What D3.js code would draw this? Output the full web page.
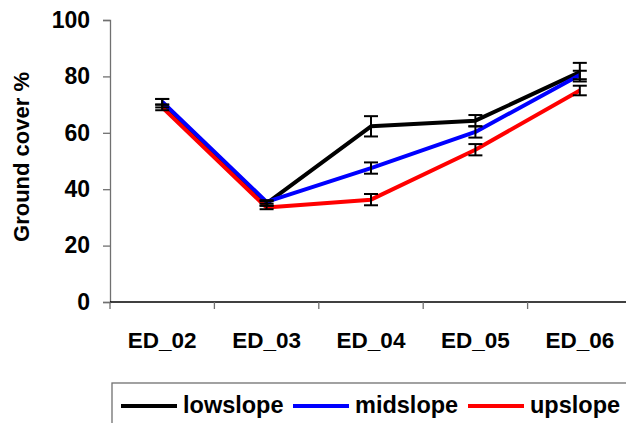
<!DOCTYPE html>
<html>
<head>
<meta charset="utf-8">
<script src="https://cdn.jsdelivr.net/npm/d3@7"></script>
<style>
  html, body { margin: 0; padding: 0; background: #fff; }
  svg { display: block; font-family: "Liberation Sans", Arial, sans-serif; }
</style>
</head>
<body>
<svg id="chart" width="626" height="423"></svg>
<script>
// Survey dates on the x axis
const categories = ["ED_02", "ED_03", "ED_04", "ED_05", "ED_06"];

// Mean ground cover (%) per slope position
const lowslope = [70.5, 35.0, 62.3, 64.3, 81.5];
const midslope = [71.0, 35.5, 47.5, 60.3, 80.5];
const upslope  = [69.0, 33.5, 36.3, 54.0, 75.0];

// Standard error for each mean
const lowslopeErr = [1.5, 0.8, 3.6, 2.0, 3.3];
const midslopeErr = [1.0, 0.6, 2.0, 2.0, 1.5];
const upslopeErr  = [1.0, 0.6, 2.0, 2.0, 1.7];

const yTicks = [0, 20, 40, 60, 80, 100];

const series = [
  { name: "lowslope", values: lowslope, err: lowslopeErr, color: "#000000" },
  { name: "midslope", values: midslope, err: midslopeErr, color: "#0000ff" },
  { name: "upslope",  values: upslope,  err: upslopeErr,  color: "#ff0000" }
];

const svg = d3.select("#chart");

const x = d3.scaleBand().domain(categories).range([110, 632]);
const y = d3.scaleLinear().domain([0, 100]).range([302, 20]);

// Y axis
const yAxis = svg.append("g")
  .attr("transform", "translate(110,0)")
  .call(d3.axisLeft(y).tickValues(yTicks).tickSize(7).tickPadding(13));
yAxis.select(".domain").attr("stroke", "#707070").attr("stroke-width", 1.3);
yAxis.selectAll(".tick line").attr("stroke", "#707070").attr("stroke-width", 1.3);
yAxis.selectAll(".tick text")
  .attr("font-size", 23).attr("font-weight", "bold").attr("fill", "#000")
  .attr("font-family", "Liberation Sans, Arial, sans-serif");

// X axis with ticks on band boundaries
const xAxisG = svg.append("g").attr("transform", "translate(0,302)");
xAxisG.append("line")
  .attr("x1", 110).attr("x2", 632).attr("y1", 0).attr("y2", 0)
  .attr("stroke", "#000").attr("stroke-width", 1.3);
const boundaries = categories.map(c => x(c)).concat([x.range()[1]]);
xAxisG.selectAll("line.tk").data(boundaries).join("line")
  .attr("class", "tk")
  .attr("x1", d => d).attr("x2", d => d).attr("y1", 0).attr("y2", 7)
  .attr("stroke", "#707070").attr("stroke-width", 1.3);
xAxisG.selectAll("text").data(categories).join("text")
  .attr("x", d => x(d) + x.bandwidth() / 2)
  .attr("y", 46)
  .attr("text-anchor", "middle")
  .attr("font-size", 22.5).attr("font-weight", "bold")
  .text(d => d);

// Y axis title
svg.append("text")
  .attr("transform", "translate(29,157) rotate(-90)")
  .attr("text-anchor", "middle")
  .attr("font-size", 22).attr("font-weight", "bold")
  .text("Ground cover %");

// Series lines
const cx = (i) => x(categories[i]) + x.bandwidth() / 2;
const line = d3.line().x((d, i) => cx(i)).y(d => y(d));

svg.append("g").selectAll("path").data(series).join("path")
  .attr("d", s => line(s.values))
  .attr("fill", "none")
  .attr("stroke", s => s.color)
  .attr("stroke-width", 4)
  .attr("stroke-linejoin", "round");

// Error bars
const eb = svg.append("g").attr("stroke", "#000").attr("stroke-width", 2);
series.forEach(s => {
  s.values.forEach((v, i) => {
    const px = cx(i);
    const top = y(v + s.err[i]), bot = y(v - s.err[i]);
    eb.append("line").attr("x1", px).attr("x2", px).attr("y1", top).attr("y2", bot);
    eb.append("line").attr("x1", px - 7).attr("x2", px + 7).attr("y1", top).attr("y2", top);
    eb.append("line").attr("x1", px - 7).attr("x2", px + 7).attr("y1", bot).attr("y2", bot);
  });
});

// Legend
const lg = svg.append("g");
lg.append("rect")
  .attr("x", 112).attr("y", 383).attr("width", 530).attr("height", 60)
  .attr("fill", "#fff").attr("stroke", "#707070").attr("stroke-width", 1.3);
const legendX = [121, 293, 468];
series.forEach((s, i) => {
  lg.append("line")
    .attr("x1", legendX[i]).attr("x2", legendX[i] + 56)
    .attr("y1", 406).attr("y2", 406)
    .attr("stroke", s.color).attr("stroke-width", 4);
  lg.append("text")
    .attr("x", legendX[i] + 62).attr("y", 413)
    .attr("font-size", 23.5).attr("font-weight", "bold")
    .text(s.name);
});
</script>
</body>
</html>
